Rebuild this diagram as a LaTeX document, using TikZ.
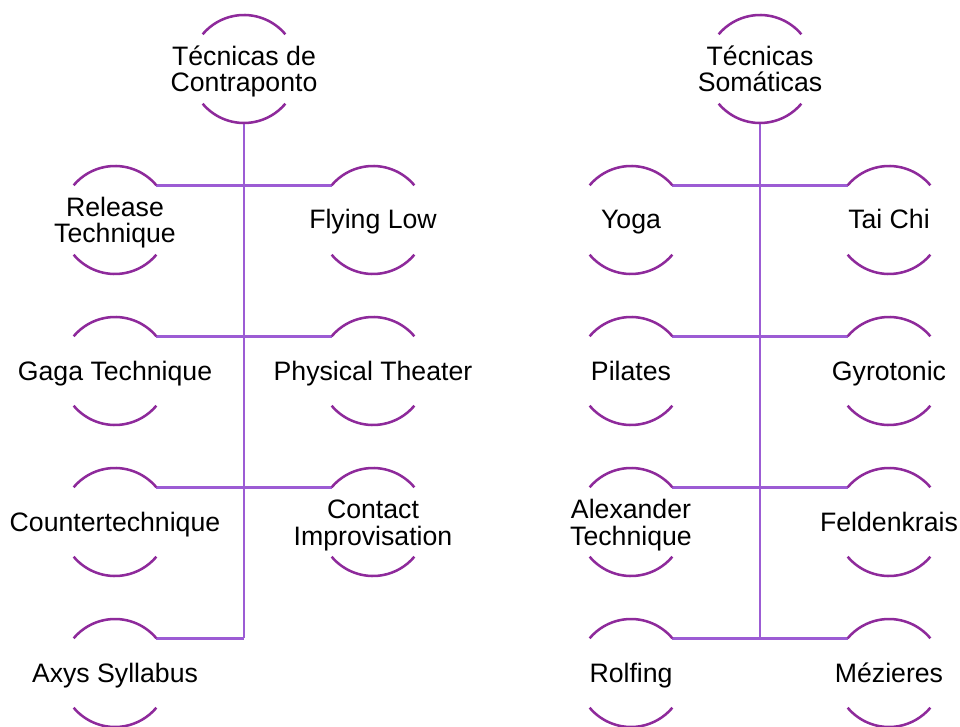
\documentclass[tikz,border=0pt]{standalone}
\usepackage{fontspec}
\setmainfont{Liberation Sans}
\definecolor{arcc}{RGB}{142,42,155}
\definecolor{connc}{RGB}{156,92,212}
\begin{document}
\begin{tikzpicture}[x=0.75pt,y=0.75pt,
  ring/.style={circle,minimum size=81pt,inner sep=0pt,outer sep=0pt,draw=none},
  txt/.style={align=center,inner sep=0pt,anchor=base,font=\fontsize{20pt}{19.8pt}\selectfont,text=black},
  one/.style={txt,yshift=-6.75pt},
  two/.style={txt,yshift=-17.25pt},
  arcline/.style={draw=arcc,line width=1.9pt},
  conn/.style={draw=connc,line width=2.2pt}]
\useasboundingbox (0,0) rectangle (960,-727);
% left tree
\node[ring] (L) at (244,-69) {};
\node[two] (Lt) at (L) {Técnicas de\\Contraponto};
\node[ring] (a1) at (115,-220) {}; \node[two] (a1t) at (a1) {Release\\Technique};
\node[ring] (a2) at (373,-220) {}; \node[one] (a2t) at (a2) {Flying Low};
\node[ring] (a3) at (115,-371) {}; \node[one] (a3t) at (a3) {Gaga Technique};
\node[ring] (a4) at (373,-371) {}; \node[one] (a4t) at (a4) {Physical Theater};
\node[ring] (a5) at (115,-522) {}; \node[one] (a5t) at (a5) {Countertechnique};
\node[ring] (a6) at (373,-522) {}; \node[two] (a6t) at (a6) {Contact\\Improvisation};
\node[ring] (a7) at (115,-673) {}; \node[one] (a7t) at (a7) {Axys Syllabus};
% right tree
\node[ring] (R) at (760,-69) {};
\node[two] (Rt) at (R) {Técnicas\\Somáticas};
\node[ring] (b1) at (631,-220) {}; \node[one] (b1t) at (b1) {Yoga};
\node[ring] (b2) at (889,-220) {}; \node[one] (b2t) at (b2) {Tai Chi};
\node[ring] (b3) at (631,-371) {}; \node[one] (b3t) at (b3) {Pilates};
\node[ring] (b4) at (889,-371) {}; \node[one] (b4t) at (b4) {Gyrotonic};
\node[ring] (b5) at (631,-522) {}; \node[two] (b5t) at (b5) {Alexander\\Technique};
\node[ring] (b6) at (889,-522) {}; \node[one] (b6t) at (b6) {Feldenkrais};
\node[ring] (b7) at (631,-673) {}; \node[one] (b7t) at (b7) {Rolfing};
\node[ring] (b8) at (889,-673) {}; \node[one] (b8t) at (b8) {Mézieres};
% connectors
\draw[conn] (L.south) -- (L.south |- a7.40);
\foreach \n in {a1,a3,a5,a7} \draw[conn] (\n.40) -- (\n.40 -| L.south);
\foreach \n in {a2,a4,a6} \draw[conn] (\n.140) -- (\n.140 -| L.south);
\draw[conn] (R.south) -- (R.south |- b7.40);
\foreach \n in {b1,b3,b5,b7} \draw[conn] (\n.40) -- (\n.40 -| R.south);
\foreach \n in {b2,b4,b6,b8} \draw[conn] (\n.140) -- (\n.140 -| R.south);
% arcs
\foreach \n in {L,a1,a2,a3,a4,a5,a6,a7,R,b1,b2,b3,b4,b5,b6,b7,b8}{
  \draw[arcline] (\n.40) arc[start angle=40,end angle=140,radius=40.5pt];
  \draw[arcline] (\n.220) arc[start angle=220,end angle=320,radius=40.5pt];
}
\end{tikzpicture}
\end{document}
